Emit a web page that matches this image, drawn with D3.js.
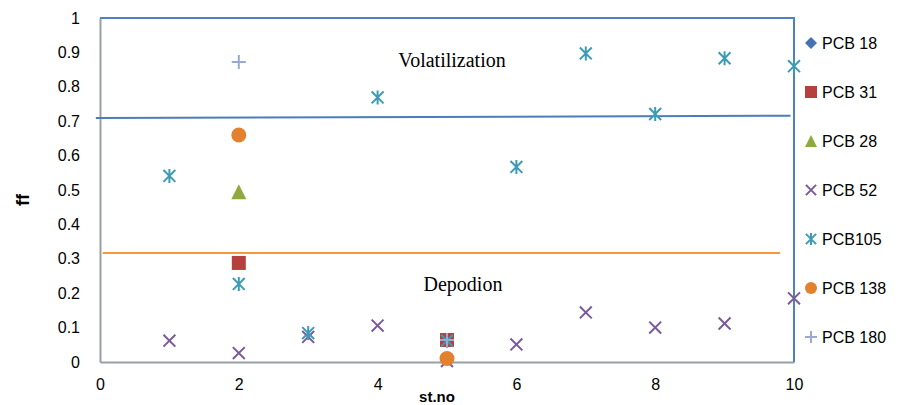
<!DOCTYPE html>
<html>
<head>
<meta charset="utf-8">
<script src="https://cdn.jsdelivr.net/npm/d3@7"></script>
<style>
  body { margin: 0; background: #fff; }
  text { font-family: "Liberation Sans", Arial, sans-serif; }
</style>
</head>
<body>
<div id="app"></div>
<script>
// station numbers and fractions
const stations = [1, 2, 3, 4, 5, 6, 7, 8, 9, 10];
const pcb18 = [[5, 0.064]];
const pcb31 = [[2, 0.288], [5, 0.064]];
const pcb28 = [[2, 0.495]];
const pcb52 = [0.062, 0.026, 0.073, 0.106, 0.003, 0.051, 0.144, 0.100, 0.112, 0.185];
const pcb105 = [0.541, 0.227, 0.084, 0.769, 0.062, 0.567, 0.897, 0.721, 0.883, 0.860];
const pcb138 = [[2, 0.660], [5, 0.010]];
const pcb180 = [[2, 0.872], [5, 0.064]];

const seriesNames = ["PCB 18", "PCB 31", "PCB 28", "PCB 52", "PCB105", "PCB 138", "PCB 180"];
const seriesColors = ["#4472b4", "#b5403d", "#8faa3c", "#7b5a99", "#3c9bb5", "#e3822e", "#9aa9d4"];
const seriesShapes = ["diamond", "square", "triangle", "cross", "asterisk", "circle", "plus"];

// boundary lines (x, ff)
const volLine = [[-0.06, 0.709], [9.95, 0.716]];
const depLine = [[0.04, 0.317], [9.8, 0.317]];

const xTicks = [0, 2, 4, 6, 8, 10];
const yTicks = d3.range(0, 11).map((d) => d / 10);

const chart = () => {
  const width = 898;
  const height = 405;
  const svg = d3.create("svg").attr("width", width).attr("height", height);

  const x = d3.scaleLinear().domain([0, 10]).range([100, 794]);
  const y = d3.scaleLinear().domain([0, 1]).range([362, 18]);

  // axes
  const yAxis = svg
    .append("g")
    .attr("transform", `translate(${x(0)},0)`)
    .call(
      d3.axisLeft(y).tickValues(yTicks).tickSize(0).tickPadding(20)
        .tickFormat((d) => d3.format("~g")(d))
    );
  yAxis.select(".domain").attr("stroke", "#9a9fa3").attr("stroke-width", 2);
  yAxis.selectAll("text").style("font-size", "16px").attr("fill", "#000");

  const xAxis = svg
    .append("g")
    .attr("transform", `translate(0,${y(0)})`)
    .call(d3.axisBottom(x).tickValues(xTicks).tickSize(0).tickPadding(17));
  xAxis.select(".domain").attr("stroke", "#9a9fa3").attr("stroke-width", 2);
  xAxis.selectAll("text").style("font-size", "16px").attr("fill", "#000");

  // blue top and right border
  svg.append("path")
    .attr("d", `M${x(0)},${y(1)}H${x(10)}V${y(0)}`)
    .attr("fill", "none")
    .attr("stroke", "#4f81bd")
    .attr("stroke-width", 2);

  const line = d3.line().x((d) => x(d[0])).y((d) => y(d[1]));
  svg.append("path").datum(volLine).attr("d", line)
    .attr("stroke", "#4a7ebb").attr("stroke-width", 2).attr("fill", "none");
  svg.append("path").datum(depLine).attr("d", line)
    .attr("stroke", "#f7963c").attr("stroke-width", 2).attr("fill", "none");

  svg.append("text").text("Volatilization")
    .attr("x", 452).attr("y", 67).attr("text-anchor", "middle")
    .style("font-family", "'Liberation Serif', 'Times New Roman', serif")
    .style("font-size", "20px");
  svg.append("text").text("Depodion")
    .attr("x", 463).attr("y", 291).attr("text-anchor", "middle")
    .style("font-family", "'Liberation Serif', 'Times New Roman', serif")
    .style("font-size", "20px");

  svg.append("text").text("ff")
    .attr("transform", "translate(29,200) rotate(-90)")
    .attr("text-anchor", "middle")
    .style("font-size", "18px").style("font-weight", "bold");
  svg.append("text").text("st.no")
    .attr("x", 437).attr("y", 402).attr("text-anchor", "middle")
    .style("font-size", "15px").style("font-weight", "bold");

  const marker = (g, shape, color, s) => {
    const h = s / 2;
    if (shape === "diamond") {
      g.append("path").attr("d", `M0,${-h}L${h},0L0,${h}L${-h},0Z`).attr("fill", color);
    } else if (shape === "square") {
      g.append("rect").attr("x", -h).attr("y", -h).attr("width", s).attr("height", s).attr("fill", color);
    } else if (shape === "triangle") {
      g.append("path").attr("d", `M0,${-h}L${h},${h}L${-h},${h}Z`).attr("fill", color);
    } else if (shape === "circle") {
      g.append("circle").attr("r", h).attr("fill", color);
    } else {
      const k = h * 0.85;
      let d = "";
      if (shape === "cross" || shape === "asterisk") d += `M${-k},${-k}L${k},${k}M${-k},${k}L${k},${-k}`;
      if (shape === "asterisk") d += `M0,${-h}V${h}`;
      if (shape === "plus") d += `M${-h},0H${h}M0,${-h}V${h}`;
      g.append("path").attr("d", d).attr("stroke", color).attr("stroke-width", 2).attr("fill", "none");
    }
  };

  const seriesData = [
    pcb18,
    pcb31,
    pcb28,
    stations.map((s, i) => [s, pcb52[i]]),
    stations.map((s, i) => [s, pcb105[i]]),
    pcb138,
    pcb180,
  ];
  const sizes = [13, 14, 15, 14, 14, 15, 14];

  seriesData.forEach((data, i) => {
    svg.append("g")
      .selectAll("g")
      .data(data)
      .join("g")
      .attr("transform", (d) => `translate(${x(d[0])},${y(d[1])})`)
      .each(function () {
        marker(d3.select(this), seriesShapes[i], seriesColors[i], sizes[i]);
      });
  });

  // legend
  const legend = svg.append("g").attr("transform", "translate(811,43)");
  seriesNames.forEach((name, i) => {
    const row = legend.append("g").attr("transform", `translate(0,${i * 49})`);
    marker(row, seriesShapes[i], seriesColors[i], 12);
    row.append("text").text(name)
      .attr("x", 11).attr("y", 6)
      .style("font-size", "16px");
  });

  return svg.node();
};

d3.select("#app").append(chart);
</script>
</body>
</html>
